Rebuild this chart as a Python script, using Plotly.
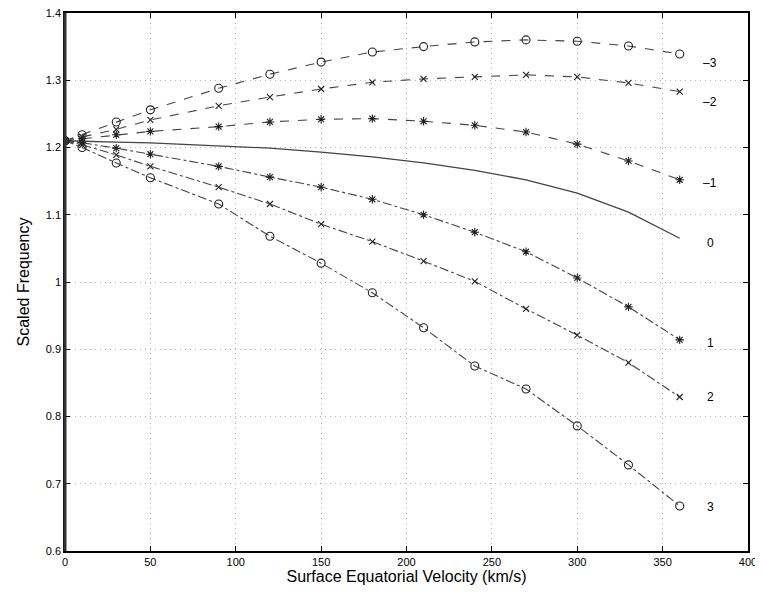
import plotly.graph_objects as go

velocity = [0, 10, 30, 50, 90, 120, 150, 180, 210, 240, 270, 300, 330, 360]

freq_m_neg3 = [1.210, 1.219, 1.238, 1.256, 1.288, 1.309, 1.327, 1.342, 1.350, 1.357, 1.360, 1.358, 1.351, 1.339]
freq_m_neg2 = [1.210, 1.216, 1.227, 1.241, 1.262, 1.275, 1.287, 1.297, 1.302, 1.305, 1.308, 1.305, 1.296, 1.283]
freq_m_neg1 = [1.210, 1.213, 1.219, 1.224, 1.231, 1.238, 1.242, 1.243, 1.239, 1.233, 1.223, 1.205, 1.180, 1.152]
freq_m_0    = [1.210, 1.209, 1.208, 1.207, 1.203, 1.199, 1.193, 1.186, 1.177, 1.166, 1.152, 1.132, 1.104, 1.065]
freq_m_1    = [1.210, 1.207, 1.199, 1.190, 1.172, 1.156, 1.141, 1.123, 1.100, 1.074, 1.045, 1.006, 0.963, 0.914]
freq_m_2    = [1.210, 1.204, 1.189, 1.172, 1.141, 1.116, 1.086, 1.060, 1.031, 1.001, 0.960, 0.921, 0.880, 0.829]
freq_m_3    = [1.210, 1.200, 1.177, 1.155, 1.116, 1.068, 1.028, 0.984, 0.932, 0.875, 0.841, 0.786, 0.728, 0.667]

m_labels = ["\u20133", "\u20132", "\u20131", "0", "1", "2", "3"]
label_x = 378
label_y = [1.326, 1.268, 1.147, 1.058, 0.909, 0.829, 0.665]

series = [
    (freq_m_neg3, "circle-open", "dash", 8),
    (freq_m_neg2, "x-thin-open", "dash", 6),
    (freq_m_neg1, "asterisk-open", "dash", 7),
    (freq_m_0, None, "solid", 0),
    (freq_m_1, "asterisk-open", "dashdot", 7),
    (freq_m_2, "x-thin-open", "dashdot", 6),
    (freq_m_3, "circle-open", "dashdot", 8),
]

fig = go.Figure()
for (vals, sym, dash, size), lab in zip(series, m_labels):
    if sym is None:
        fig.add_trace(go.Scatter(x=velocity, y=vals, mode="lines",
                                 line=dict(color="#444444", width=1.3, dash=dash),
                                 name=lab, showlegend=False))
    else:
        fig.add_trace(go.Scatter(x=velocity, y=vals, mode="lines+markers",
                                 line=dict(color="#444444", width=1.1, dash=dash),
                                 marker=dict(symbol=sym, size=size, color="#222222",
                                             line=dict(width=1.1, color="#222222")),
                                 name=lab, showlegend=False))

for lab, ly in zip(m_labels, label_y):
    fig.add_annotation(x=label_x, y=ly, text=lab, showarrow=False,
                       font=dict(family="Liberation Sans, Arial", size=12, color="#000000"))

axis_common = dict(
    showline=True, linecolor="black", linewidth=1.5, mirror="ticks",
    ticks="inside", ticklen=5, tickcolor="black",
    showgrid=True, gridcolor="#b0b0b0", griddash="1px,4px", gridwidth=1,
    zeroline=False, automargin=False, ticklabeloverflow="allow",
    tickfont=dict(family="Liberation Sans, Arial", size=11, color="black"),
)

fig.update_xaxes(range=[0, 400], dtick=50,
                 title=dict(text="Surface Equatorial Velocity (km/s)", standoff=2,
                            font=dict(family="Liberation Sans, Arial", size=16, color="black")),
                 **axis_common)
fig.update_yaxes(range=[0.6, 1.4], dtick=0.1, tickformat="~g",
                 title=dict(text="Scaled Frequency", standoff=12,
                            font=dict(family="Liberation Sans, Arial", size=16, color="black")),
                 **axis_common)

# thicker left frame edge, as in the reference
fig.add_shape(type="line", xref="paper", yref="paper", x0=0, x1=0, y0=0, y1=1,
              line=dict(color="#333333", width=3))

# page body has an 8px default margin, so the figure is sized to compensate
fig.update_layout(
    width=755, height=595,
    margin=dict(l=57, r=15, t=5, b=52),
    plot_bgcolor="white", paper_bgcolor="white",
    showlegend=False,
)

fig.write_html("out.html")
